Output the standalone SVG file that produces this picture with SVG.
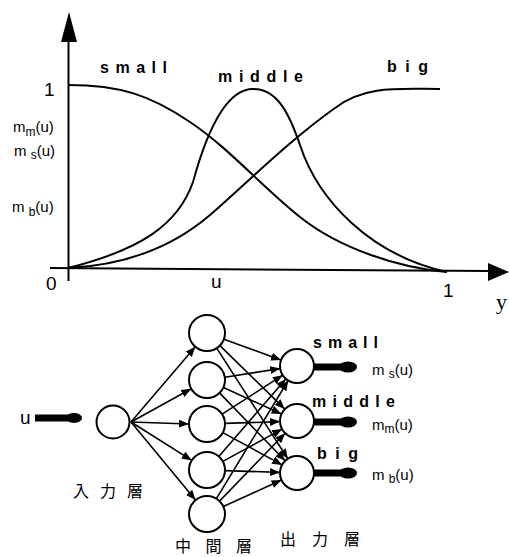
<svg xmlns="http://www.w3.org/2000/svg" width="509" height="557" viewBox="0 0 509 557">
<style>
.ax{stroke:#000;stroke-width:2;fill:none}
.cv{stroke:#000;stroke-width:2;fill:none}
.nd{stroke:#000;stroke-width:2;fill:#fff}
.cn{stroke:#000;stroke-width:1.6;fill:none}
.lb{font-family:"Liberation Sans","DejaVu Sans",sans-serif;font-weight:bold;font-size:16px;fill:#000}
.mt{font-family:"Liberation Sans","DejaVu Sans",sans-serif;font-size:15px;fill:#000}
.nm{font-family:"Liberation Sans","DejaVu Sans",sans-serif;font-size:19px;fill:#000}
.jp{font-family:"Noto Sans CJK JP","Noto Sans CJK SC",sans-serif;font-size:16px;fill:#000}
.thick{stroke:#000;stroke-width:7;fill:none}
</style>
<defs>
<marker id="ah" markerUnits="userSpaceOnUse" markerWidth="11" markerHeight="9" refX="10" refY="4.5" orient="auto">
<path d="M0,0.5 L10,4.5 L0,8.5 Z" fill="#000"/>
</marker>
</defs>

<g id="plot">
<line class="ax" x1="68.5" y1="281" x2="68.5" y2="38"/>
<polygon points="61,42 69,12 77,42" fill="#000"/>
<line class="ax" x1="50" y1="268" x2="490" y2="271"/>
<polygon points="488,263 509,272 488,281" fill="#000"/>
<path class="cv" d="M68,85 C120,85 150,95 190,122 S260,185 300,217 S400,268 447,272"/>
<path class="cv" d="M68,268 C140,250 178,225 193,182 C210,120 230,89 253,89 C276,89 288,110 300,145 C318,200 370,255 447,272"/>
<path class="cv" d="M68,268 C130,265 175,245 210,215 C250,180 290,140 335,108 C365,85 400,89 440,89"/>
<text class="nm" x="44" y="96" font-size="20">1</text>
<text class="nm" x="46" y="290">0</text>
<text class="nm" x="211" y="288">u</text>
<text class="nm" x="443" y="297" font-size="21">1</text>
<text x="496" y="309" font-family="Liberation Serif,serif" font-size="22">y</text>
<text class="lb" x="100" y="73" textLength="67" lengthAdjust="spacing">small</text>
<text class="lb" x="218" y="82" textLength="85" lengthAdjust="spacing">middle</text>
<text class="lb" x="387" y="72" textLength="41" lengthAdjust="spacing">big</text>
<text class="mt" x="13" y="132">m<tspan font-size="12" dy="4">m</tspan><tspan dy="-4">(u)</tspan></text>
<text class="mt" x="14" y="156">m <tspan font-size="12" dy="3">s</tspan><tspan dy="-3">(u)</tspan></text>
<text class="mt" x="12" y="212">m <tspan font-size="12" dy="4">b</tspan><tspan dy="-4">(u)</tspan></text>
</g>

<g id="connectors">
<line class="cn" x1="131" y1="422" x2="195.3" y2="346.7" marker-end="url(#ah)"/>
<line class="cn" x1="131" y1="422" x2="191.2" y2="388.7" marker-end="url(#ah)"/>
<line class="cn" x1="131" y1="422" x2="189" y2="424" marker-end="url(#ah)"/>
<line class="cn" x1="131" y1="422" x2="191.8" y2="460.4" marker-end="url(#ah)"/>
<line class="cn" x1="131" y1="422" x2="195.5" y2="500.1" marker-end="url(#ah)"/>

<line class="cn" x1="223.9" y1="339.2" x2="281" y2="360.1" marker-end="url(#ah)"/>
<line class="cn" x1="219.9" y1="345.6" x2="284.8" y2="409.1" marker-end="url(#ah)"/>
<line class="cn" x1="216.7" y1="348.1" x2="287.8" y2="458.7" marker-end="url(#ah)"/>
<line class="cn" x1="224.8" y1="377.2" x2="280.2" y2="368.6" marker-end="url(#ah)"/>
<line class="cn" x1="223.4" y1="387.5" x2="281.5" y2="413.9" marker-end="url(#ah)"/>
<line class="cn" x1="219.5" y1="392.9" x2="285.2" y2="460.8" marker-end="url(#ah)"/>
<line class="cn" x1="222.1" y1="414.2" x2="282.7" y2="375.2" marker-end="url(#ah)"/>
<line class="cn" x1="225" y1="423.4" x2="280" y2="421.6" marker-end="url(#ah)"/>
<line class="cn" x1="222.8" y1="432.6" x2="282.1" y2="464.9" marker-end="url(#ah)"/>
<line class="cn" x1="218.8" y1="456.4" x2="285.9" y2="378.9" marker-end="url(#ah)"/>
<line class="cn" x1="222.8" y1="461.4" x2="282.1" y2="429.1" marker-end="url(#ah)"/>
<line class="cn" x1="225" y1="470.6" x2="280" y2="472.4" marker-end="url(#ah)"/>
<line class="cn" x1="216.4" y1="498.6" x2="288.2" y2="380.5" marker-end="url(#ah)"/>
<line class="cn" x1="219.5" y1="501.1" x2="285.2" y2="433.2" marker-end="url(#ah)"/>
<line class="cn" x1="223.4" y1="506.5" x2="281.5" y2="480" marker-end="url(#ah)"/>

<line class="thick" x1="35" y1="418" x2="74" y2="418"/>
<ellipse cx="74" cy="418" rx="8" ry="5" fill="#000"/>
<line class="thick" x1="313" y1="367" x2="348" y2="367"/>
<ellipse cx="348" cy="367" rx="9" ry="5.5" fill="#000"/>
<line class="thick" x1="313" y1="422" x2="348" y2="422"/>
<ellipse cx="348" cy="422" rx="9" ry="5.5" fill="#000"/>
<line class="thick" x1="313" y1="473" x2="348" y2="473"/>
<ellipse cx="348" cy="473" rx="9" ry="5.5" fill="#000"/>
</g>

<g id="input-u"><text class="nm" x="20" y="424">u</text></g>
<g id="input-node"><circle class="nd" cx="113" cy="422" r="16.5"/></g>
<g id="hidden-1"><circle class="nd" cx="207" cy="333" r="18"/></g>
<g id="hidden-2"><circle class="nd" cx="207" cy="380" r="18"/></g>
<g id="hidden-3"><circle class="nd" cx="207" cy="424" r="18"/></g>
<g id="hidden-4"><circle class="nd" cx="207" cy="470" r="18"/></g>
<g id="hidden-5"><circle class="nd" cx="207" cy="514" r="18"/></g>
<g id="out-small"><circle class="nd" cx="297" cy="366" r="17"/>
<text class="lb" x="313" y="348" textLength="65" lengthAdjust="spacing">small</text>
<text class="mt" x="372" y="375" font-size="14">m <tspan font-size="12" dy="3">s</tspan><tspan dy="-3">(u)</tspan></text></g>
<g id="out-middle"><circle class="nd" cx="297" cy="421" r="17"/>
<text class="lb" x="312" y="407" textLength="83" lengthAdjust="spacing">middle</text>
<text class="mt" x="372" y="430" font-size="14">m<tspan font-size="12" dy="3">m</tspan><tspan dy="-3">(u)</tspan></text></g>
<g id="out-big"><circle class="nd" cx="297" cy="473" r="17"/>
<text class="lb" x="317" y="459" textLength="41" lengthAdjust="spacing">big</text>
<text class="mt" x="372" y="480" font-size="14">m <tspan font-size="12" dy="3">b</tspan><tspan dy="-3">(u)</tspan></text></g>

<g id="layer-labels">
<text class="jp" x="73" y="497" textLength="70" lengthAdjust="spacing">入力層</text>
<text class="jp" x="175" y="552" textLength="77" lengthAdjust="spacing">中間層</text>
<text class="jp" x="280" y="545" font-size="17" textLength="80" lengthAdjust="spacing">出力層</text>
</g>
</svg>
